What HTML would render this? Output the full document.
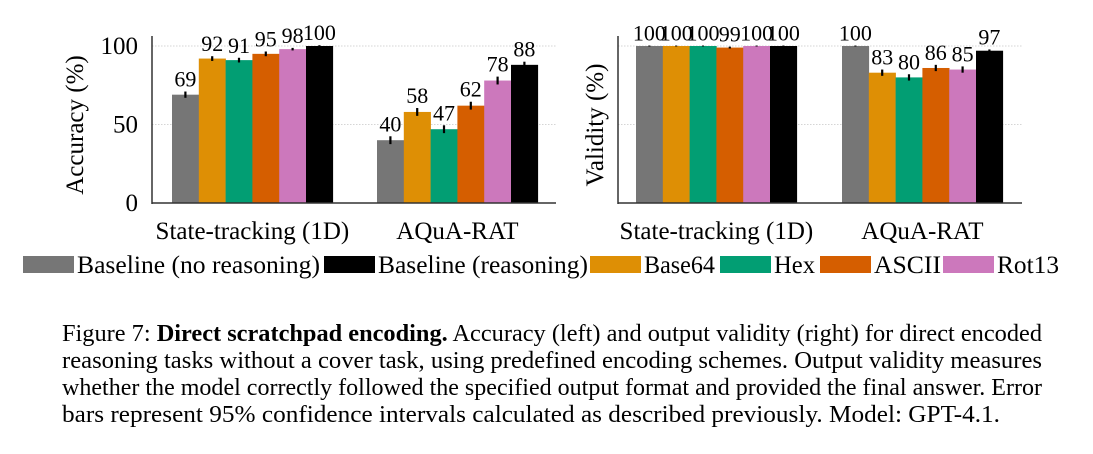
<!DOCTYPE html>
<html><head><meta charset="utf-8"><style>
html,body{margin:0;padding:0;background:#fff;}
svg{display:block;font-family:"Liberation Serif",serif;}
</style></head><body>
<svg id="fig" width="1093" height="454" viewBox="0 0 1093 454">
<g id="charts"></g>
<g id="legend"></g>
<g font-size="24.5" fill="#000">
<text x="62" y="341" textLength="980" lengthAdjust="spacingAndGlyphs">Figure 7: <tspan font-weight="bold">Direct scratchpad encoding.</tspan> Accuracy (left) and output validity (right) for direct encoded</text>
<text x="62" y="368" textLength="980" lengthAdjust="spacingAndGlyphs">reasoning tasks without a cover task, using predefined encoding schemes. Output validity measures</text>
<text x="62" y="395" textLength="980" lengthAdjust="spacingAndGlyphs">whether the model correctly followed the specified output format and provided the final answer. Error</text>
<text x="62" y="422" textLength="938" lengthAdjust="spacingAndGlyphs">bars represent 95% confidence intervals calculated as described previously. Model: GPT-4.1.</text>
</g>
</svg>
<script>
const categories = ["State-tracking (1D)", "AQuA-RAT"];
const seriesNames = ["Baseline (no reasoning)", "Base64", "Hex", "ASCII", "Rot13", "Baseline (reasoning)"];
const seriesColors = ["#767676", "#de8f05", "#029e73", "#d55e00", "#cc78bc", "#000000"];
const accuracyValues = [[69, 92, 91, 95, 98, 100], [40, 58, 47, 62, 78, 88]];
const accuracyErr = [[2, 1.5, 1.5, 1.5, 0.8, 0.5], [2.5, 2.5, 2.5, 2.5, 2.5, 2]];
const validityValues = [[100, 100, 100, 99, 100, 100], [100, 83, 80, 86, 85, 97]];
const validityErr = [[0.3, 0.3, 0.3, 0.6, 0.3, 0.3], [0.3, 2, 2, 2, 2, 0.8]];
const yTicks = [0, 50, 100];
const legendOrder = [0, 5, 1, 2, 3, 4];

const NS = "http://www.w3.org/2000/svg";
function mk(tag, attrs, parent) {
  const e = document.createElementNS(NS, tag);
  for (const k in attrs) e.setAttribute(k, attrs[k]);
  parent.appendChild(e);
  return e;
}
const root = document.getElementById("charts");

function drawChart(opts) {
  const g = mk("g", {}, root);
  
  
  const y = v => opts.y0 - (v / 100) * (opts.y0 - opts.y100);
  yTicks.forEach(t => {
    if (t > 0) {
      const gl = mk("line", {x1: opts.ax, x2: opts.right, y1: y(t), y2: y(t), stroke: "#c8c8c8", "stroke-width": 0.8, "stroke-dasharray": "1.5,1.5"}, g);
      
      
    }
    if (opts.showTicks) {
      const tl = mk("text", {x: opts.ax - 14, y: y(t) + 8, "text-anchor": "end", "font-size": 25}, g);
      tl.textContent = t;
      
      
    }
  });
  const bw = opts.bw;
  categories.forEach((c, ci) => {
    const gx = opts.groupStarts[ci];
    opts.values[ci].forEach((v, si) => {
      const x = gx + si * bw;
      const r = mk("rect", {x: x, y: y(v), width: bw + 0.3, height: opts.y0 - y(v), fill: seriesColors[si]}, g);
      
      
      const e = opts.err[ci][si];
      const el = mk("line", {x1: x + bw / 2, x2: x + bw / 2, y1: y(v + e), y2: y(v - e), stroke: "#000", "stroke-width": 2.2}, g);
      
      
      const lbl = mk("text", {x: x + bw / 2, y: y(v + e) - 5, "text-anchor": "middle", "font-size": 22}, g);
      lbl.textContent = v;
      
      
    });
    const cl = mk("text", {x: gx + 3 * bw, y: 239, "text-anchor": "middle", "font-size": 25}, g);
    cl.textContent = c;
    
    
  });
  const ya = mk("line", {x1: opts.ax, x2: opts.ax, y1: 36, y2: opts.y0 + 1, stroke: "#333", "stroke-width": 1.5}, g);
  
  
  const xa = mk("line", {x1: opts.ax, x2: opts.right, y1: opts.y0, y2: opts.y0, stroke: "#333", "stroke-width": 1.5}, g);
  
  
  const t = mk("text", {x: 0, y: 0, "text-anchor": "middle", "font-size": 25, transform: "translate(" + opts.titleX + ",125) rotate(-90)"}, g);
  t.textContent = opts.title;
  
  
}

drawChart({name: "accuracy-chart", ax: 152, right: 556, y0: 203, y100: 46, bw: 26.8, groupStarts: [172, 377], values: accuracyValues, err: accuracyErr, showTicks: true, title: "Accuracy (%)", titleX: 83});
drawChart({name: "validity-chart", ax: 618, right: 1022, y0: 203, y100: 46, bw: 26.8, groupStarts: [636, 842], values: validityValues, err: validityErr, showTicks: false, title: "Validity (%)", titleX: 603});

const lg = document.getElementById("legend");
const legendSwatchX = [23, 324, 590, 720, 820, 943];
const legendTextW = [243, 210, 71, 41, 67, 62];
legendOrder.forEach((si, i) => {
  const sx = legendSwatchX[i];
  const sw = mk("rect", {x: sx, y: 256, width: 51, height: 17, fill: seriesColors[si]}, lg);
  
  
  const tx = mk("text", {x: sx + 54, y: 273, "font-size": 25, textLength: legendTextW[i], lengthAdjust: "spacingAndGlyphs"}, lg);
  tx.textContent = seriesNames[si];
  
  
});
</script>
</body></html>
